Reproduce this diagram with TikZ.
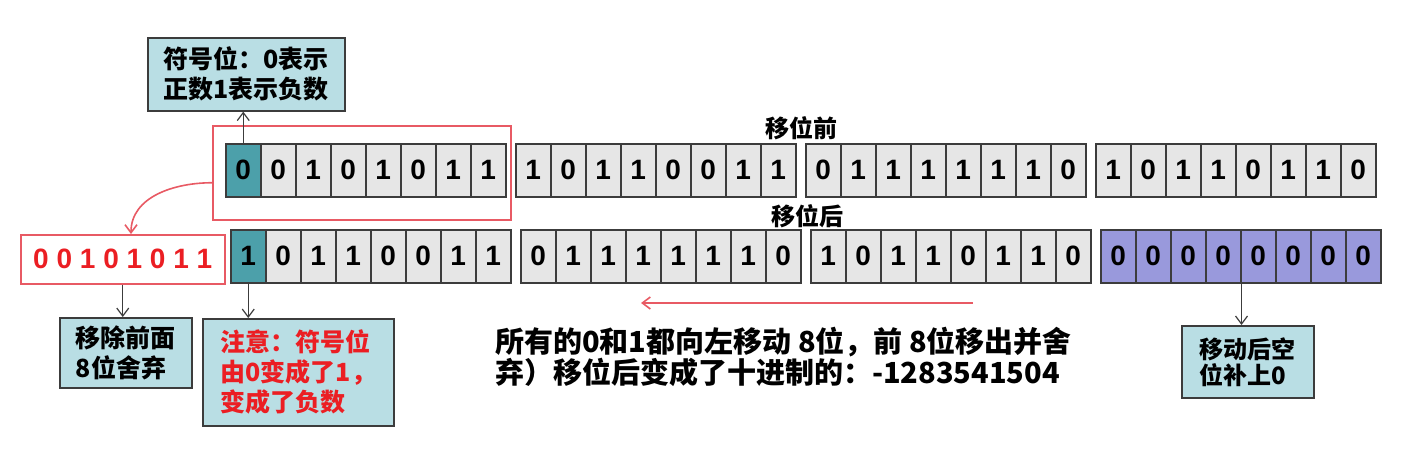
\documentclass[tikz,border=0pt]{standalone}
\usepackage{fontspec}
\setmainfont{Liberation Sans}
\newfontfamily\cjk{Noto Sans CJK SC}
\usetikzlibrary{arrows.meta}
\definecolor{cellgray}{RGB}{230,230,230}
\definecolor{signteal}{RGB}{76,160,170}
\definecolor{padblue}{RGB}{153,153,220}
\definecolor{notefill}{RGB}{185,222,228}
\definecolor{edgegray}{RGB}{60,60,60}
\definecolor{markred}{RGB}{232,90,100}
\definecolor{textred}{RGB}{235,30,35}
\begin{document}
\begin{tikzpicture}[x=0.5pt, y=-0.5pt,
		bit/.style={draw=edgegray, line width=0.75pt, minimum width=17.5pt, minimum height=26.5pt,
			inner sep=0pt, anchor=north west, font=\bfseries\fontsize{14}{14}\selectfont},
		note/.style={draw=edgegray, line width=0.8pt, fill=notefill, anchor=north west, align=left,
			inner sep=0pt, font=\cjk\bfseries\fontsize{12.5}{15}\selectfont},
		tip line/.style={draw=edgegray, line width=0.6pt, -{Straight Barb[length=4pt, width=6pt]}},
		heading/.style={font=\cjk\bfseries\fontsize{12}{12}\selectfont}]
			\useasboundingbox (0,0) rectangle (1408,450);
			% before the shift
			\foreach \g/\fc/\rc/\bits in {1/signteal/cellgray/{0,0,1,0,1,0,1,1}, 2/cellgray/cellgray/{1,0,1,1,0,0,1,1},
			  3/cellgray/cellgray/{0,1,1,1,1,1,1,0}, 4/cellgray/cellgray/{1,0,1,1,0,1,1,0}}{
			  \foreach \b [count=\i] in \bits {
			      \ifnum\i=1 \let\c\fc \else \let\c\rc \fi
			      \node[bit, fill=\c] (t\g\i) at ({225+290*(\g-1)+35*(\i-1)}, 143) {\b};
			  }}
			% after the shift
			\foreach \g/\fc/\rc/\bits in {1/signteal/cellgray/{1,0,1,1,0,0,1,1}, 2/cellgray/cellgray/{0,1,1,1,1,1,1,0},
			  3/cellgray/cellgray/{1,0,1,1,0,1,1,0}, 4/padblue/padblue/{0,0,0,0,0,0,0,0}}{
			  \foreach \b [count=\i] in \bits {
			      \ifnum\i=1 \let\c\fc \else \let\c\rc \fi
			      \node[bit, fill=\c] (b\g\i) at ({230+290*(\g-1)+35*(\i-1)}, 229) {\b};
			  }}
			\node[heading] (before) at (801,128) {移位前};
			\node[heading] (after) at (807,216) {移位后};
			\node[draw=markred, line width=0.75pt, minimum width=149pt, minimum height=47pt, anchor=north west] (drop) at (212,125) {};
			\node[draw=markred, line width=0.75pt, fill=white, minimum width=102pt, minimum height=24.5pt, anchor=north west,
			  text=textred, font=\bfseries\fontsize{14}{14}\selectfont] (lost) at (20,234) {0 0 1 0 1 0 1 1};
			\node[note, minimum width=98.5pt, minimum height=36.5pt] (sign) at (147,37) {符号位：0表示\\正数1表示负数};
			\node[note, minimum width=66pt, minimum height=35pt] (remove) at (59,317) {移除前面\\8位舍弃};
			\node[note, minimum width=95.5pt, minimum height=53.5pt, text=textred] (flip) at (202,318) {注意：符号位\\由0变成了1，\\变成了负数};
			\node[note, minimum width=66pt, minimum height=36pt, font=\cjk\bfseries\fontsize{12}{13}\selectfont] (pad) at (1181,325) {移动后空\\位补上0};
			\node[anchor=west, align=left, font=\cjk\bfseries\fontsize{14.5}{15.5}\selectfont] (rule) at (488,357)
			  {所有的0和1都向左移动 8位，前 8位移出并舍\\弃）移位后变成了十进制的：-1283541504};
			\coordinate (shift start) at (973,303);
			\coordinate (shift end) at (641,303);
			\draw[tip line] (t11.north) -- (t11.north |- sign.south);
			\draw[tip line] (lost.south) -- (lost.south |- remove.north);
			\draw[tip line] (b11.south) -- (b11.south |- flip.north);
			\draw[tip line] (b44.south east) -- (b44.south east |- pad.north);
			\draw[tip line, draw=markred, line width=0.8pt] ([yshift=-5pt]drop.west) to[out=180, in=90] (lost.north -| 131,0);
			\draw[tip line, draw=markred, line width=0.8pt] (shift start) -- (shift end);
		\end{tikzpicture}
\end{document}
